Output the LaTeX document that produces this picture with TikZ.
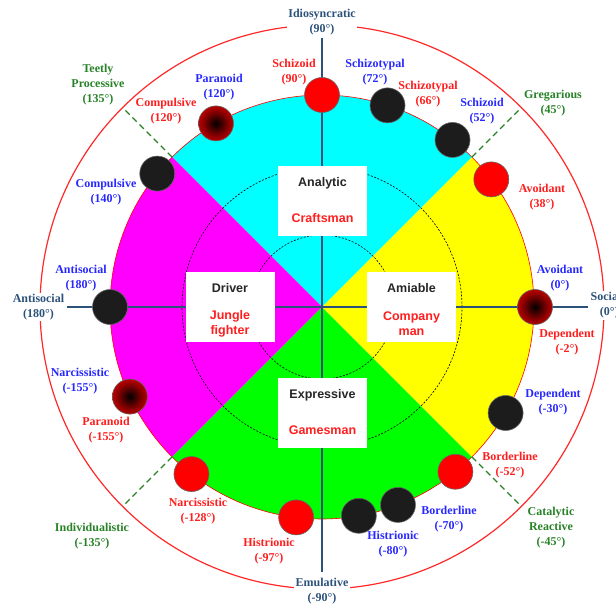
\documentclass[tikz,border=0pt]{standalone}
\usepackage{fontspec}
\setmainfont{Liberation Serif}
\newfontfamily\boxfont{Liberation Sans}
\usetikzlibrary{calc}

\definecolor{axisblue}{RGB}{44,82,122}
\definecolor{lblblue}{RGB}{40,40,255}
\definecolor{lblred}{RGB}{255,30,30}
\definecolor{lblgreen}{RGB}{40,130,40}
\definecolor{ringred}{RGB}{255,40,40}
\definecolor{ballblack}{RGB}{28,28,28}
\definecolor{qcyan}{RGB}{0,255,255}
\definecolor{qmagenta}{RGB}{255,0,255}
\definecolor{qgreen}{RGB}{0,255,0}
\definecolor{qyellow}{RGB}{255,255,0}
\definecolor{pure red}{RGB}{255,0,0}

% red disc with a dark core
\pgfdeclareradialshading{coreball}{\pgfpoint{0bp}{0bp}}{%
  color(0bp)=(black); color(18bp)=(pure red!55!black); color(36bp)=(pure red); color(50bp)=(pure red)}

\tikzset{
  lbl/.style={align=center,font=\bfseries\fontsize{12}{15}\selectfont,inner sep=0pt},
  bluelbl/.style={lbl,text=lblblue},
  redlbl/.style={lbl,text=lblred},
  greenlbl/.style={lbl,text=lblgreen},
  axislbl/.style={lbl,text=axisblue,fill=white,inner sep=1.5pt},
  ball/.style={circle,minimum size=35pt,inner sep=0pt,draw=black!60,line width=0.6pt},
  redball/.style={ball,fill=pure red},
  blackball/.style={ball,fill=ballblack},
  shadeball/.style={ball,shading=coreball},
  axisline/.style={draw=axisblue,line width=1.5pt},
  gdash/.style={draw=lblgreen,line width=1.3pt,dash pattern=on 6pt off 4pt},
  ring/.style={draw=black,line width=0.6pt,dash pattern=on 2pt off 1.5pt},
  wbox/.style={fill=white,minimum width=89pt,minimum height=70pt,inner sep=0pt},
  boxtitle/.style={font=\boxfont\bfseries\fontsize{12.5}{15}\selectfont,text=black!85,align=center,inner sep=0pt},
  boxsub/.style={font=\boxfont\bfseries\fontsize{12.5}{15}\selectfont,text=lblred,align=center,inner sep=0pt},
}

\begin{document}
\begin{tikzpicture}[x=1pt,y=1pt]
\useasboundingbox (0,0) rectangle (616,603);
\coordinate (O) at (322,296);

% four coloured quadrants
\fill[qcyan]    (O) -- ($(O)+(45:212)$)  arc[start angle=45,end angle=135,radius=212] -- cycle;
\fill[qmagenta] (O) -- ($(O)+(135:212)$) arc[start angle=135,end angle=225,radius=212] -- cycle;
\fill[qgreen]   (O) -- ($(O)+(225:212)$) arc[start angle=225,end angle=315,radius=212] -- cycle;
\fill[qyellow]  (O) -- ($(O)+(-45:212)$) arc[start angle=-45,end angle=45,radius=212] -- cycle;
\draw[pure red,line width=0.6pt] (O) circle[radius=212];

% inner dashed rings
\draw[ring] (O) circle[radius=72];
\draw[ring] (O) circle[radius=140];

% outer ring
\draw[ringred,line width=1.2pt] (O) circle[radius=282];

% axes
\coordinate (axT) at (322,565);
\coordinate (axB) at (322,31);
\coordinate (axL) at (67,296);
\coordinate (axR) at (588,296);
\draw[axisline] (axT) -- (axB);
\draw[axisline] (axL) -- (axR);

% diagonal dashed spokes
\foreach \a in {45,135,-135,-45}{
  \coordinate (gin\a) at ($(O)+(\a:212)$);
  \coordinate (gout\a) at ($(O)+(\a:282)$);
  \draw[gdash] (gin\a) -- (gout\a);
}

% markers on the rim
\node[redball]   (m90)  at ($(O)+(90:212)$) {};
\node[blackball] (m72)  at ($(O)+(72:212)$) {};
\node[blackball] (m52)  at ($(O)+(52:212)$) {};
\node[redball]   (m38)  at ($(O)+(37:212)$) {};
\node[shadeball] (m0)   at ($(O)+(0:213)$) {};
\node[blackball] (m-30) at ($(O)+(-30:212)$) {};
\node[redball]   (m-52) at ($(O)+(-51:212)$) {};
\node[blackball] (m-70) at ($(O)+(-69:212)$) {};
\node[blackball] (m-80) at ($(O)+(-80:212)$) {};
\node[redball]   (m-97) at ($(O)+(-97:212)$) {};
\node[redball]   (m-128) at ($(O)+(-128:212)$) {};
\node[shadeball] (m-155) at ($(O)+(-155:212)$) {};
\node[blackball] (m180) at ($(O)+(180:212)$) {};
\node[blackball] (m140) at ($(O)+(141:212)$) {};
\node[shadeball] (m120) at ($(O)+(120:212)$) {};

% style boxes
\node[wbox] (bA) at (322.5,402) {};
\node[boxtitle] (tA) at (322.5,420) {Analytic};
\node[boxsub]   (sA) at (322.5,385) {Craftsman};

\node[wbox] (bD) at (230,295.5) {};
\node[boxtitle] (tD) at (230,315) {Driver};
\node[boxsub]   (sD) at (230,279) {Jungle\\fighter};

\node[wbox] (bM) at (411.5,295.5) {};
\node[boxtitle] (tM) at (411.5,315) {Amiable};
\node[boxsub]   (sM) at (411.5,279) {Company\\man};

\node[wbox] (bE) at (322.5,190) {};
\node[boxtitle] (tE) at (322.5,208) {Expressive};
\node[boxsub]   (sE) at (322.5,173) {Gamesman};

% axis labels
\node[axislbl] (xT) at (322,580.5) {Idiosyncratic\\(90°)};
\node[axislbl] (xL) at (38.5,296) {Antisocial\\(180°)};
\node[axislbl,anchor=west] (xR) at (589,297.5) {Social\\\hphantom{S}(0°)};
\node[axislbl] (xB) at (322,12) {Emulative\\(-90°)};

% diagonal labels
\node[greenlbl] (dTP) at (98,518) {Teetly\\Processive\\(135°)};
\node[greenlbl] (dG)  at (553,499.5) {Gregarious\\(45°)};
\node[greenlbl] (dI)  at (92,67) {Individualistic\\(-135°)};
\node[greenlbl] (dC)  at (551,75) {Catalytic\\Reactive\\(-45°)};

% blue labels
\node[bluelbl] at (219,515.5) {Paranoid\\(120°)};
\node[bluelbl] at (375,530.5) {Schizotypal\\(72°)};
\node[bluelbl] at (482,491.5) {Schizoid\\(52°)};
\node[bluelbl] at (106,410.5) {Compulsive\\(140°)};
\node[bluelbl] at (81,324.5) {Antisocial\\(180°)};
\node[bluelbl] at (80,222) {Narcissistic\\(-155°)};
\node[bluelbl] at (560,324.5) {Avoidant\\(0°)};
\node[bluelbl] at (553,201) {Dependent\\(-30°)};
\node[bluelbl] at (449,83.5) {Borderline\\(-70°)};
\node[bluelbl] at (393,59) {Histrionic\\(-80°)};

% red labels
\node[redlbl] at (294,530.5) {Schizoid\\(90°)};
\node[redlbl] at (428,508.5) {Schizotypal\\(66°)};
\node[redlbl] at (166,492) {Compulsive\\(120°)};
\node[redlbl] at (542,406) {Avoidant\\(38°)};
\node[redlbl] at (567,260.5) {Dependent\\(-2°)};
\node[redlbl] at (106,172.5) {Paranoid\\(-155°)};
\node[redlbl] at (198,91.5) {Narcissistic\\(-128°)};
\node[redlbl] at (269,52) {Histrionic\\(-97°)};
\node[redlbl] at (510,137.5) {Borderline\\(-52°)};
\end{tikzpicture}
\end{document}
